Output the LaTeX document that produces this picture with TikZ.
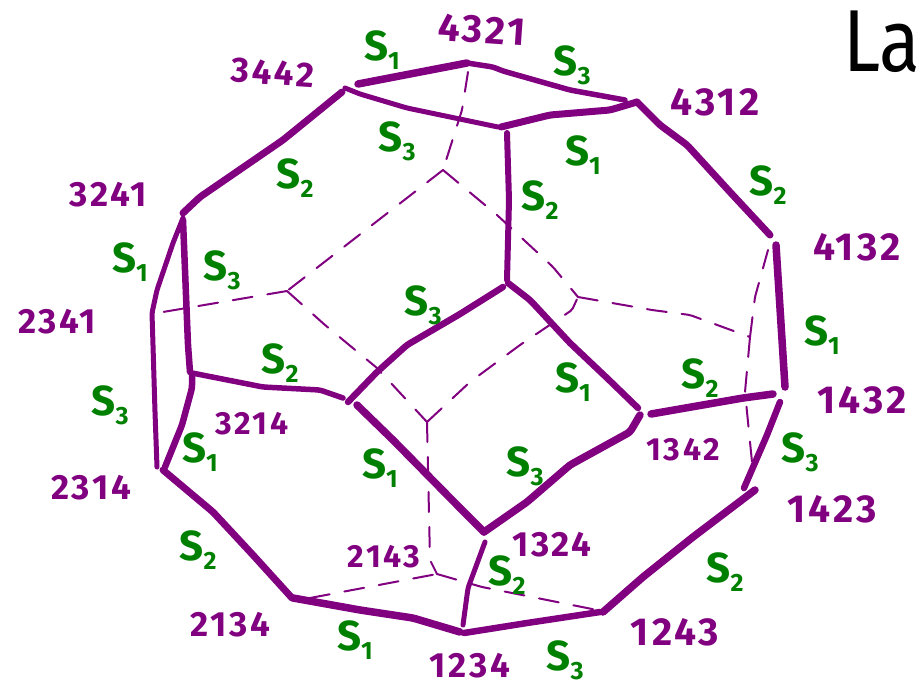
\documentclass[tikz,border=0pt]{standalone}
\usepackage{fontspec}
\setmainfont{Fira Sans}
\newfontfamily\labfont[LetterSpace=8]{Fira Sans}
\definecolor{pur}{RGB}{128,0,128}
\definecolor{grn}{RGB}{0,128,0}
\newcommand{\gs}[1]{{\fontsize{42}{42}\selectfont\bfseries S}\raisebox{-9pt}{\fontsize{25}{25}\selectfont\bfseries #1}}
\tikzset{
  edge/.style={draw=pur,line cap=round,line join=round,rounded corners=3pt},
  hid/.style={draw=pur,line width=2pt,dash pattern=on 20pt off 15pt,line cap=round,rounded corners=2pt},
  vlab/.style={text=pur,inner sep=0pt,font=\labfont\bfseries\fontsize{39}{39}\selectfont},
  vmid/.style={text=pur,inner sep=0pt,font=\labfont\bfseries\fontsize{35}{35}\selectfont},
  vsmall/.style={text=pur,inner sep=0pt,font=\labfont\bfseries\fontsize{32}{32}\selectfont},
  slab/.style={text=grn,inner sep=0pt}
}
\begin{document}
\begin{tikzpicture}[x=1pt,y=-1pt]
\useasboundingbox (0,0) rectangle (921,689);
% vertices
\foreach \n/\x/\y in {
 aL/358/84, top/467/63, topB/468/72, aR/625/100, bL/345/88, bM/498/127, bN/501/127, bR/637/102,
 cT/770/235, dT/776/245, dB/785/387, eL/651/414, eR/773/394, fT/780/402, fB/744/488,
 gT/755/490, gB/603/612, hR/600/612, hL/464/633, iB/463/625, iT/485/542, jB/484/532, jR/640/415,
 kR/638/408, kL/508/283, lT/507/133, lB/507/280, mT/503/287, mB/348/402, nT/357/405, nB/484/532,
 oL/192/373, oR/343/398, pT/192/376, pB/165/467, qT/183/220, qB/190/372, rT/183/218, rB/157/467,
 tL/183/213, tR/342/92, uT/163/470, uB/292/598, vL/293/598, vR/460/632,
 da/443/170, db/287/291, dc/427/422, dd/578/297, de/750/337, df/437/574,
 dg/157/313, dh/752/462, di/768/250, dj/430/560, dk/310/598, dl/597/610, dm/572/310}
 {\coordinate (\n) at (\x,\y);}
% solid edges
\draw[edge,line width=7.5pt] (aL) -- (top);
\draw[edge,line width=5.5pt] (top) -- (493,67) -- (503,71) -- (570,90) -- (aR);
\draw[edge,line width=5pt] (bL) -- (360,94) -- (407,108) -- (bM);
\draw[edge,line width=7pt] (bN) -- (550,115) -- (610,110) -- (bR);
\draw[edge,line width=7pt] (bR) -- (660,125) -- (687,145) -- (730,192) -- (cT);
\draw[edge,line width=7.5pt] (dT) -- (dB);
\draw[edge,line width=7.5pt] (eL) -- (743,398) -- (eR);
\draw[edge,line width=6.5pt] (fT) -- (767,435) -- (fB);
\draw[edge,line width=7.5pt] (gT) -- (693,537) -- (643,577) -- (gB);
\draw[edge,line width=6.5pt] (hR) -- (527,623) -- (hL);
\draw[edge,line width=5pt] (iB) -- (468,588) -- (iT);
\draw[edge,line width=7.5pt] (jB) -- (527,502) -- (570,465) -- (630,432) -- (jR);
\draw[edge,line width=6.5pt] (kR) -- (607,378) -- (570,343) -- (530,300) -- (kL);
\draw[edge,line width=6pt] (lT) -- (509,200) -- (lB);
\draw[edge,line width=6.5pt] (mT) -- (460,314) -- (407,345) -- (377,372) -- (mB);
\draw[edge,line width=7.5pt] (nT) -- (393,440) -- (460,508) -- (nB);
\draw[edge,line width=5.5pt] (oL) -- (263,387) -- (320,390) -- (oR);
\draw[edge,line width=6.5pt] (pT) -- (192,388) -- (182,425) -- (pB);
\draw[edge,line width=6.5pt] (qT) -- (188,345) -- (qB);
\draw[edge,line width=5pt] (rT) -- (173,243) -- (157,290) -- (152,313) -- (153,345) -- (155,412) -- (rB);
\draw[edge,line width=7pt] (tL) -- (200,197) -- (283,140) -- (tR);
\draw[edge,line width=7pt] (uT) -- (213,512) -- (253,555) -- (uB);
\draw[edge,line width=7.5pt] (vL) -- (360,610) -- (413,618) -- (vR);
% hidden edges
\draw[hid] (topB) -- (462,110) -- (da);
\draw[hid] (da) -- (db);
\draw[hid] (db) -- (dg);
\draw[hid] (db) -- (325,325) -- (377,368) -- (dc);
\draw[hid] (dc) -- (470,382) -- (520,345) -- (dm) -- (dd);
\draw[hid] (dc) -- (dj) -- (df);
\draw[hid] (da) -- (497,215) -- (553,267) -- (dd);
\draw[hid] (dd) -- (652,310) -- (690,315) -- (de);
\draw[hid] (de) -- (755,297) -- (di);
\draw[hid] (de) -- (745,392) -- (dh);
\draw[hid] (dk) -- (df);
\draw[hid] (df) -- (482,587) -- (dl);
% vertex labels
\node[vlab,rotate=-4] (n4321) at (482,30) {4321};
\node[vmid,rotate=-4] (n3442) at (273,73) {3442};
\node[vlab] (n4312) at (715,102) {4312};
\node[vmid] (n3241) at (108,195) {3241};
\node[vlab] (n4132) at (857,247) {4132};
\node[vmid] (n2341) at (57,322) {2341};
\node[vlab] (n1432) at (862,400) {1432};
\node[vsmall] (n3214) at (252,424) {3214};
\node[vsmall] (n1342) at (683,450) {1342};
\node[vmid] (n2314) at (91,488) {2314};
\node[vlab] (n1423) at (832,509) {1423};
\node[vmid] (n1324) at (552,545) {1324};
\node[vsmall] (n2143) at (384,557) {2143};
\node[vmid] (n2134) at (230,625) {2134};
\node[vlab] (n1243) at (675,632) {1243};
\node[vmid] (n1234) at (470,666) {1234};
% generator labels
\node[slab] (g1) at (382,50) {\gs{1}};
\node[slab] (g2) at (572,65) {\gs{3}};
\node[slab] (g3) at (397,141) {\gs{3}};
\node[slab] (g4) at (583,155) {\gs{1}};
\node[slab] (g5) at (295,178) {\gs{2}};
\node[slab] (g6) at (768,185) {\gs{2}};
\node[slab] (g7) at (540,200) {\gs{2}};
\node[slab] (g8) at (130,262) {\gs{1}};
\node[slab] (g9) at (222,270) {\gs{3}};
\node[slab] (g10) at (423,305) {\gs{3}};
\node[slab] (g11) at (822,335) {\gs{1}};
\node[slab] (g12) at (280,363) {\gs{2}};
\node[slab] (g13) at (700,378) {\gs{2}};
\node[slab] (g14) at (573,382) {\gs{1}};
\node[slab] (g15) at (110,405) {\gs{3}};
\node[slab] (g16) at (800,452) {\gs{3}};
\node[slab] (g17) at (200,452) {\gs{1}};
\node[slab] (g18) at (380,468) {\gs{1}};
\node[slab] (g19) at (525,466) {\gs{3}};
\node[slab] (g20) at (198,550) {\gs{2}};
\node[slab] (g21) at (725,572) {\gs{2}};
\node[slab] (g22) at (507,575) {\gs{2}};
\node[slab] (g23) at (355,640) {\gs{1}};
\node[slab] (g24) at (565,660) {\gs{3}};
% title fragment
\node[anchor=west,inner sep=0pt,xscale=0.85,font=\fontsize{88}{88}\selectfont] (ttl) at (843,42) {La};
\end{tikzpicture}
\end{document}
